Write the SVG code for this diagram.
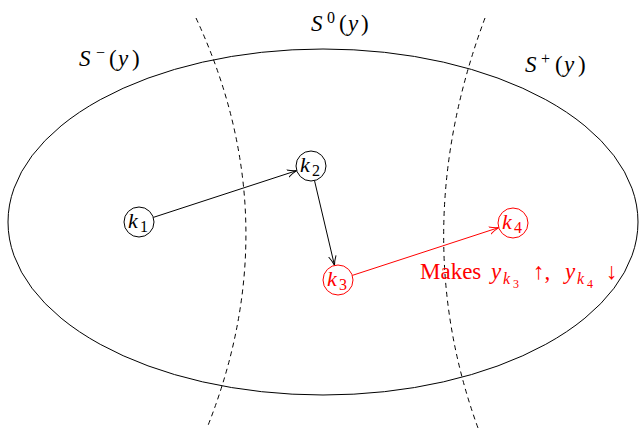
<svg xmlns="http://www.w3.org/2000/svg" width="640" height="431" viewBox="0 0 640 431">
<defs>
<style>
.t{font-family:"Liberation Serif","DejaVu Serif",serif;font-size:23px}
.i{font-style:italic}
.s{font-size:16px}
.ss{font-size:12px}
.kl{font-family:"Liberation Serif","DejaVu Serif",serif;font-size:22px}
.node{fill:#fff;stroke-width:1}
.edge{fill:none;stroke-width:1}
</style>
<marker id="ab" viewBox="0 0 10 10" refX="9.5" refY="5" markerWidth="10" markerHeight="10" orient="auto" markerUnits="userSpaceOnUse"><path d="M0,1.2 Q5,4 9.5,5 Q5,6 0,8.8" fill="none" stroke="#000" stroke-width="1"/></marker>
<marker id="ar" viewBox="0 0 10 10" refX="9.5" refY="5" markerWidth="10" markerHeight="10" orient="auto" markerUnits="userSpaceOnUse"><path d="M0,1.2 Q5,4 9.5,5 Q5,6 0,8.8" fill="none" stroke="#f00" stroke-width="1"/></marker>
</defs>
<rect width="640" height="431" fill="#fff"/>
<g id="region">
<ellipse cx="323" cy="222" rx="315" ry="173" fill="none" stroke="#000" stroke-width="1"/>
<path d="M196,18 Q290,220 207,428" fill="none" stroke="#000" stroke-dasharray="5,4"/>
<path d="M485,18 Q406,230 478,428" fill="none" stroke="#000" stroke-dasharray="5,4"/>
<text class="t"><tspan class="i" x="79" y="66">S</tspan><tspan class="s" x="96" y="58">−</tspan><tspan x="109" y="66">(</tspan><tspan class="i" x="118" y="66">y</tspan><tspan x="132" y="66">)</tspan></text>
<text class="t"><tspan class="i" x="311" y="31">S</tspan><tspan class="s" x="327" y="23">0</tspan><tspan x="339" y="31">(</tspan><tspan class="i" x="348" y="31">y</tspan><tspan x="361" y="31">)</tspan></text>
<text class="t"><tspan class="i" x="525" y="72">S</tspan><tspan class="s" x="541" y="64">+</tspan><tspan x="555" y="72">(</tspan><tspan class="i" x="564" y="72">y</tspan><tspan x="578" y="72">)</tspan></text>
</g>
<g id="connectors">
<line class="edge" x1="153.3" y1="217.4" x2="296.7" y2="170.6" stroke="#000" marker-end="url(#ab)"/>
<line class="edge" x1="314.5" y1="180.6" x2="334.5" y2="265.4" stroke="#000" marker-end="url(#ab)"/>
<line class="edge" x1="352.3" y1="275.4" x2="498.7" y2="227.6" stroke="#f00" marker-end="url(#ar)"/>
</g>
<g id="k1"><circle class="node" cx="139" cy="222" r="15" stroke="#000"/><text class="kl"><tspan class="i" x="128" y="228">k</tspan><tspan class="s" x="140" y="232">1</tspan></text></g>
<g id="k2"><circle class="node" cx="311" cy="166" r="15" stroke="#000"/><text class="kl"><tspan class="i" x="300" y="172">k</tspan><tspan class="s" x="312" y="176">2</tspan></text></g>
<g id="k3"><circle class="node" cx="338" cy="280" r="15" stroke="#f00"/><text class="kl" fill="#f00"><tspan class="i" x="327" y="286">k</tspan><tspan class="s" x="339" y="290">3</tspan></text></g>
<g id="k4"><circle class="node" cx="513" cy="223" r="15" stroke="#f00"/><text class="kl" fill="#f00"><tspan class="i" x="502" y="229">k</tspan><tspan class="s" x="514" y="233">4</tspan></text></g>
<g id="note"><text class="t" fill="#f00"><tspan x="420" y="279">Makes</tspan><tspan class="i" x="491" y="279">y</tspan><tspan class="i s" x="503" y="284">k</tspan><tspan class="ss" x="513" y="288">3</tspan><tspan x="533" y="279">↑,</tspan><tspan class="i" x="565" y="279">y</tspan><tspan class="i s" x="577" y="284">k</tspan><tspan class="ss" x="587" y="288">4</tspan><tspan x="606" y="279">↓</tspan></text></g>
</svg>
